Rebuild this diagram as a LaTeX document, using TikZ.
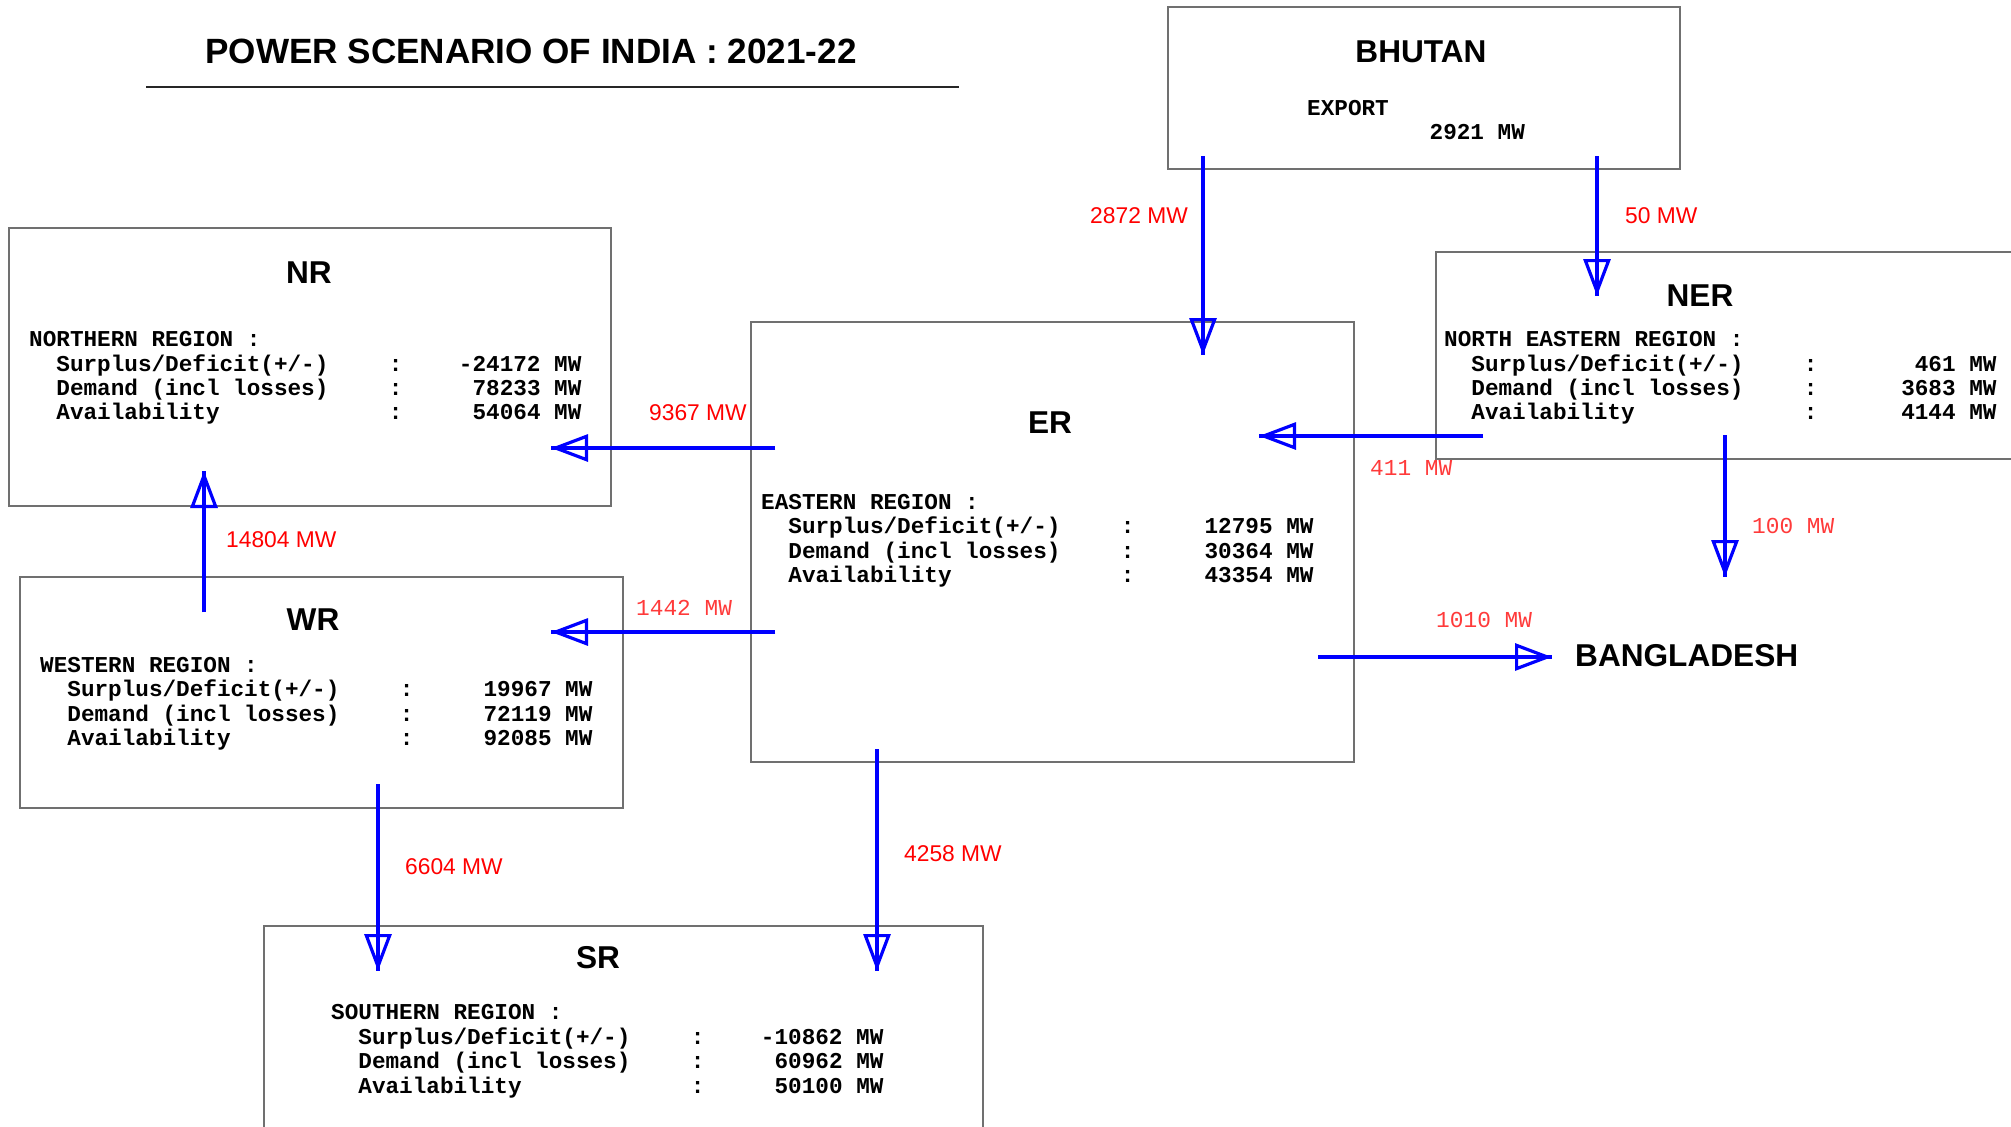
\documentclass[tikz,border=0pt]{standalone}
\usepackage{fontspec}
\setmainfont{Liberation Sans}
\newfontfamily\cour{Liberation Mono}[Ligatures=NoCommon]
\usetikzlibrary{arrows.meta}
\definecolor{boxgray}{HTML}{707070}
\definecolor{flowblue}{HTML}{0000FF}
\definecolor{lblred}{HTML}{FF0000}
\definecolor{clblred}{HTML}{FF3A3A}
\newcommand\mycolon{\kern6pt:\kern-11.5pt}
\begin{document}
\begin{tikzpicture}[x=1pt,y=-1pt,
  box/.style={draw=boxgray, line width=1.6pt, inner sep=0pt, anchor=north west},
  head/.style={font=\bfseries\fontsize{31.6}{36}\selectfont, anchor=base, inner sep=0pt},
  body/.style={font=\cour\bfseries\fontsize{22.67}{24.4}\selectfont, anchor=base west, inner sep=0pt},
  lab/.style={text=lblred, font=\fontsize{22.8}{26}\selectfont, inner sep=0pt, anchor=base west},
  clab/.style={text=clblred, font=\cour\fontsize{22.8}{26}\selectfont, inner sep=0pt, anchor=base west},
  flow/.style={draw=flowblue, line width=3.2pt,
    -{Triangle[open, length=37pt, width=27pt, line width=3.2pt]},
    postaction={draw=flowblue, line width=3.2pt, -}}
]
\useasboundingbox (0,0) rectangle (2011,1127);
\fill[white] (0,0) rectangle (2011,1127);

% title
\node[font=\bfseries\fontsize{35.1}{40}\selectfont, anchor=base, inner sep=0pt] (title) at (531,63.5) {POWER SCENARIO OF INDIA : 2021-22};
\coordinate (ul-l) at (146,87);
\coordinate (ul-r) at (959,87);
\draw[line width=1.4pt, black!85] (ul-l) -- (ul-r);

% boxes
\node[box, minimum width=512pt, minimum height=162pt] (bhutan) at (1167,6) {};
\node[box, minimum width=602pt, minimum height=278pt] (nr) at (8,227) {};
\node[box, minimum width=603pt, minimum height=440pt] (er) at (750,321) {};
\node[box, minimum width=600pt, minimum height=207pt] (ner) at (1435,251) {};
\node[box, minimum width=603pt, minimum height=231pt] (wr) at (19,576) {};
\node[box, minimum width=719pt, minimum height=230pt] (sr) at (263,925) {};

% headings
\node[head] (bhutan-h) at (1421,62.3) {BHUTAN};
\node[head] (nr-h) at (309,283.3) {NR};
\node[head] (er-h) at (1050,433.3) {ER};
\node[head] (ner-h) at (1700,306.3) {NER};
\node[head] (wr-h) at (313,630.7) {WR};
\node[head] (sr-h) at (598,968) {SR};
\node[head, anchor=base west] (bd) at (1575,666.3) {BANGLADESH};

% bodies
\node[body] (bhutan-t) at (1307,115.5) {\begin{tabular}[t]{@{}l@{}}
EXPORT\\
~~~~~~~~~2921~MW
\end{tabular}};
\node[body] (nr-t) at (29,346.6) {\begin{tabular}[t]{@{}l@{}}
NORTHERN~REGION~:\\
~~Surplus/Deficit(+/-)~~~~\mycolon~~~~~-24172~MW\\
~~Demand~(incl~losses)~~~~\mycolon~~~~~~78233~MW\\
~~Availability~~~~~~~~~~~~\mycolon~~~~~~54064~MW
\end{tabular}};
\node[body] (wr-t) at (40,672.2) {\begin{tabular}[t]{@{}l@{}}
WESTERN~REGION~:\\
~~Surplus/Deficit(+/-)~~~~\mycolon~~~~~~19967~MW\\
~~Demand~(incl~losses)~~~~\mycolon~~~~~~72119~MW\\
~~Availability~~~~~~~~~~~~\mycolon~~~~~~92085~MW
\end{tabular}};
\node[body] (er-t) at (761,509.2) {\begin{tabular}[t]{@{}l@{}}
EASTERN~REGION~:\\
~~Surplus/Deficit(+/-)~~~~\mycolon~~~~~~12795~MW\\
~~Demand~(incl~losses)~~~~\mycolon~~~~~~30364~MW\\
~~Availability~~~~~~~~~~~~\mycolon~~~~~~43354~MW
\end{tabular}};
\node[body] (ner-t) at (1444,346.6) {\begin{tabular}[t]{@{}l@{}}
NORTH~EASTERN~REGION~:\\
~~Surplus/Deficit(+/-)~~~~\mycolon~~~~~~~~461~MW\\
~~Demand~(incl~losses)~~~~\mycolon~~~~~~~3683~MW\\
~~Availability~~~~~~~~~~~~\mycolon~~~~~~~4144~MW
\end{tabular}};
\node[body] (sr-t) at (331,1019.9) {\begin{tabular}[t]{@{}l@{}}
SOUTHERN~REGION~:\\
~~Surplus/Deficit(+/-)~~~~\mycolon~~~~~-10862~MW\\
~~Demand~(incl~losses)~~~~\mycolon~~~~~~60962~MW\\
~~Availability~~~~~~~~~~~~\mycolon~~~~~~50100~MW
\end{tabular}};

% connector end points
\coordinate (bh-o1) at (1203,156);
\coordinate (er-i1) at (1203,355);
\coordinate (bh-o2) at (1597,156);
\coordinate (ner-i1) at (1597,296);
\coordinate (ner-o1) at (1483,436);
\coordinate (er-i2) at (1259,436);
\coordinate (ner-o2) at (1725,435);
\coordinate (ner-end) at (1725,577);
\coordinate (er-o1) at (775,448);
\coordinate (nr-i1) at (551,448);
\coordinate (er-o2) at (775,632);
\coordinate (wr-i1) at (551,632);
\coordinate (er-o3) at (1318,657);
\coordinate (bd-i) at (1552,657);
\coordinate (wr-o1) at (204,612);
\coordinate (nr-i2) at (204,471);
\coordinate (wr-o2) at (378,784);
\coordinate (sr-i1) at (378,971);
\coordinate (er-o4) at (877,749);
\coordinate (sr-i2) at (877,971);

% connectors
\draw[flow] (bh-o1) -- (er-i1);
\draw[flow] (bh-o2) -- (ner-i1);
\draw[flow] (ner-o1) -- (er-i2);
\draw[flow] (ner-o2) -- (ner-end);
\draw[flow] (er-o1) -- (nr-i1);
\draw[flow] (er-o2) -- (wr-i1);
\draw[flow] (er-o3) -- (bd-i);
\draw[flow] (wr-o1) -- (nr-i2);
\draw[flow] (wr-o2) -- (sr-i1);
\draw[flow] (er-o4) -- (sr-i2);

% flow labels
\node[lab, anchor=base east] (l2872) at (1188,223) {2872 MW};
\node[lab] (l50) at (1625,223) {50 MW};
\node[lab] (l9367) at (649,420) {9367 MW};
\node[lab] (l14804) at (226,547) {14804 MW};
\node[lab] (l6604) at (405,874) {6604 MW};
\node[lab] (l4258) at (904,861) {4258 MW};
\node[clab] (l411) at (1370,475.5) {411~MW};
\node[clab] (l100) at (1752,533.5) {100~MW};
\node[clab] (l1442) at (636,615.5) {1442~MW};
\node[clab] (l1010) at (1436,627.5) {1010~MW};
\end{tikzpicture}
\end{document}
